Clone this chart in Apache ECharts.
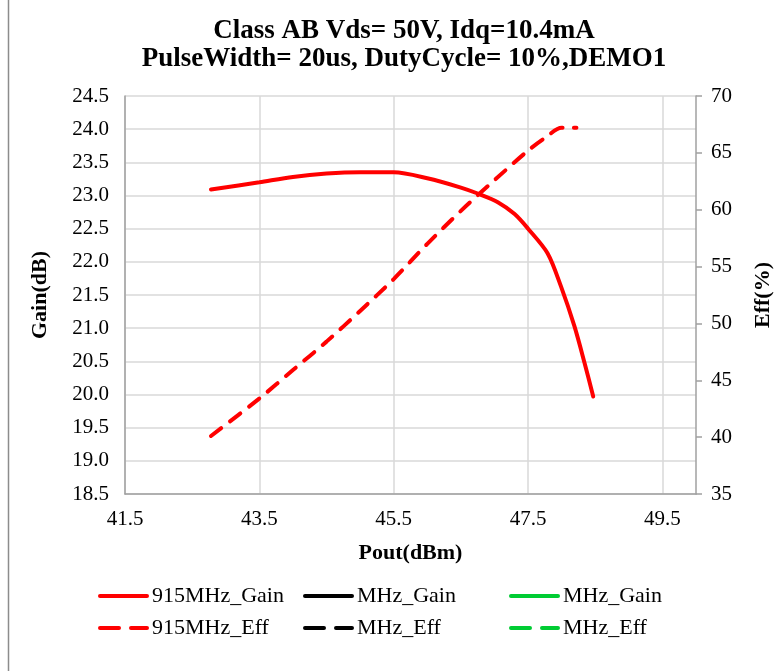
<!DOCTYPE html>
<html>
<head>
<meta charset="utf-8">
<script src="https://cdn.jsdelivr.net/npm/echarts@6/dist/echarts.min.js"></script>
<style>
  html, body { margin: 0; padding: 0; background: #fff; }
  #chart { width: 777px; height: 671px; }
</style>
</head>
<body>
<div id="chart"></div>
<script>
  // 915MHz gain curve (Pout dBm -> Gain dB)
  const gainPout = [42.78, 43.5, 44.0, 44.5, 45.0, 45.5, 46.0, 46.5, 46.75, 47.05, 47.3, 47.5, 47.79, 47.99, 48.19, 48.34, 48.47]
  const gainDb = [23.09, 23.20, 23.28, 23.33, 23.35, 23.35, 23.26, 23.12, 23.03, 22.90, 22.72, 22.50, 22.13, 21.63, 21.03, 20.48, 19.97]

  // 915MHz efficiency curve (Pout dBm -> Eff %)
  const effPout = [42.78, 43.5, 44.0, 44.5, 45.0, 45.5, 46.0, 46.5, 47.0, 47.5, 47.75, 48.0, 48.22]
  const effPct = [40.1, 43.4, 45.9, 48.4, 51.1, 53.9, 57.0, 59.9, 62.6, 65.2, 66.3, 67.2, 67.2]

  const xTicks = [41.5, 43.5, 45.5, 47.5, 49.5]
  const legendNames = [
    ['915MHz_Gain', '915MHz_Eff'],
    ['MHz_Gain#2', 'MHz_Eff#2'],
    ['MHz_Gain#3', 'MHz_Eff#3']
  ]

  const font = 'Liberation Serif'
  const gridColor = '#d9d9d9'
  const axisColor = '#a0a0a0'

  const pairs = (xs, ys) => xs.map((x, i) => [x, ys[i]])

  const chart = echarts.init(document.getElementById('chart'))

  const legendCol = (left, names) => ({
    orient: 'vertical',
    left: left,
    top: 585,
    itemWidth: 47,
    itemHeight: 14,
    itemGap: 10,
    padding: 0,
    data: [
      { name: names[0], lineStyle: { width: 4 } },
      { name: names[1], lineStyle: { width: 4, type: [19, 12] } }
    ],
    // hide the symbol dot, keep only the line sample
    itemStyle: { opacity: 0 },
    formatter: name => name.replace(/#\d$/, ''),
    textStyle: { fontFamily: font, fontSize: 22, lineHeight: 22, color: '#000' }
  })

  const lineSeries = (name, color, dashed, data, yIndex) => ({
    name: name,
    type: 'line',
    yAxisIndex: yIndex,
    data: data,
    smooth: 0.3,
    symbol: 'none',
    color: color,
    lineStyle: {
      color: color,
      width: 4,
      type: dashed ? [13, 11] : 'solid',
      cap: 'round'
    }
  })

  chart.setOption({
    backgroundColor: '#fff',
    animation: false,
    title: {
      text: 'Class AB Vds= 50V, Idq=10.4mA\nPulseWidth= 20us, DutyCycle= 10%,DEMO1',
      left: 404,
      top: 17,
      padding: 0,
      textAlign: 'center',
      textStyle: { fontFamily: font, fontSize: 27, fontWeight: 'bold', lineHeight: 28, color: '#000' }
    },
    legend: [
      legendCol(98, legendNames[0]),
      legendCol(303, legendNames[1]),
      legendCol(509, legendNames[2])
    ],
    grid: { left: 125, right: 81, top: 96, bottom: 177, outerBoundsMode: 'none' },
    xAxis: {
      type: 'value',
      min: 41.5,
      max: 50,
      name: 'Pout(dBm)',
      nameLocation: 'middle',
      nameGap: 48,
      nameTextStyle: { fontFamily: font, fontSize: 22, fontWeight: 'bold', color: '#000' },
      axisLine: { show: true, lineStyle: { color: axisColor, width: 1.5 } },
      axisTick: { show: false, customValues: xTicks },
      axisLabel: {
        customValues: xTicks,
        margin: 15,
        fontFamily: font,
        fontSize: 21,
        color: '#000',
        formatter: v => v.toFixed(1)
      },
      splitLine: { show: true, lineStyle: { color: gridColor, width: 1.5 } }
    },
    yAxis: [{
      type: 'value',
      min: 18.5,
      max: 24.5,
      interval: 0.5,
      name: 'Gain(dB)',
      nameLocation: 'middle',
      nameGap: 74,
      nameTextStyle: { fontFamily: font, fontSize: 22, fontWeight: 'bold', color: '#000' },
      axisLine: { show: true, lineStyle: { color: axisColor, width: 1.5 } },
      axisTick: { show: false },
      axisLabel: {
        margin: 16,
        fontFamily: font,
        fontSize: 21,
        color: '#000',
        formatter: v => v.toFixed(1)
      },
      splitLine: { show: true, lineStyle: { color: gridColor, width: 1.5 } }
    }, {
      type: 'value',
      min: 35,
      max: 70,
      interval: 5,
      position: 'right',
      name: 'Eff(%)',
      nameLocation: 'middle',
      nameRotate: 90,
      nameGap: 56,
      nameTextStyle: { fontFamily: font, fontSize: 22, fontWeight: 'bold', color: '#000' },
      axisLine: { show: true, lineStyle: { color: axisColor, width: 1.5 } },
      axisTick: { show: true, inside: false, length: 6, lineStyle: { color: axisColor, width: 1.5 } },
      axisLabel: { margin: 15, fontFamily: font, fontSize: 21, color: '#000' },
      splitLine: { show: false }
    }],
    graphic: [{
      type: 'line',
      shape: { x1: 8.5, y1: 0, x2: 8.5, y2: 671 },
      style: { stroke: '#8c8c8c', lineWidth: 1.5 }
    }],
    series: [
      lineSeries('915MHz_Gain', '#ff0000', false, pairs(gainPout, gainDb), 0),
      lineSeries('915MHz_Eff', '#ff0000', true, pairs(effPout, effPct), 1),
      lineSeries('MHz_Gain#2', '#000000', false, [], 0),
      lineSeries('MHz_Eff#2', '#000000', true, [], 1),
      lineSeries('MHz_Gain#3', '#00cc33', false, [], 0),
      lineSeries('MHz_Eff#3', '#00cc33', true, [], 1)
    ]
  })
</script>
</body>
</html>
